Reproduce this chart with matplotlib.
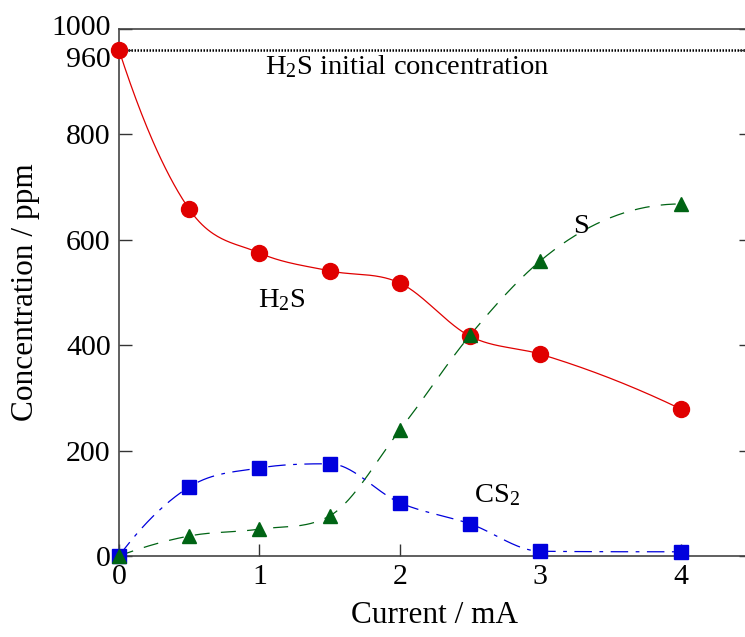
import numpy as np
import matplotlib
matplotlib.use('Agg')
import matplotlib.pyplot as plt
from matplotlib.transforms import offset_copy

plt.rcParams['font.family'] = ['Liberation Serif', 'DejaVu Serif']
plt.rcParams['mathtext.fontset'] = 'custom'
plt.rcParams['mathtext.rm'] = 'Liberation Serif'
plt.rcParams['mathtext.it'] = 'Liberation Serif:italic'

# values
current = [0, 0.5, 1, 1.5, 2, 2.5, 3, 4]
h2s = [960, 658, 575, 541, 518, 417, 383, 279]
sulfur = [0, 38, 51, 76, 239, 419, 560, 668]
cs2 = [0, 131, 167, 175, 101, 61, 9, 8]
initial = 960
yticks = [0, 200, 400, 600, 800, 960, 1000]
xticks = [0, 1, 2, 3, 4]


def smooth(x, y, n=400):
    # cubic hermite curve through the points, catmull-rom tangents
    # limited so the curve does not overshoot
    x = np.asarray(x, float)
    y = np.asarray(y, float)
    h = np.diff(x)
    d = np.diff(y) / h
    k = len(x)
    m = np.zeros(k)
    for i in range(1, k - 1):
        if d[i - 1] * d[i] > 0:
            s = (h[i] * d[i - 1] + h[i - 1] * d[i]) / (h[i - 1] + h[i])
            lim = 3 * min(abs(d[i - 1]), abs(d[i]))
            m[i] = np.sign(s) * min(abs(s), lim)
    def end(h0, h1, d0, d1):
        s = ((2 * h0 + h1) * d0 - h0 * d1) / (h0 + h1)
        if np.sign(s) != np.sign(d0):
            s = 0
        elif np.sign(d0) != np.sign(d1) and abs(s) > abs(3 * d0):
            s = 3 * d0
        return s
    m[0] = end(h[0], h[1], d[0], d[1])
    m[-1] = end(h[-1], h[-2], d[-1], d[-2])
    xs = np.linspace(x[0], x[-1], n)
    idx = np.clip(np.searchsorted(x, xs) - 1, 0, k - 2)
    hh = h[idx]
    t = (xs - x[idx]) / hh
    h00 = 2 * t ** 3 - 3 * t ** 2 + 1
    h10 = t ** 3 - 2 * t ** 2 + t
    h01 = -2 * t ** 3 + 3 * t ** 2
    h11 = t ** 3 - t ** 2
    ys = h00 * y[idx] + h10 * hh * m[idx] + h01 * y[idx + 1] + h11 * hh * m[idx + 1]
    return xs, ys


fig = plt.figure(figsize=(7.45, 6.37), dpi=100)
ax = fig.add_axes([119 / 745, 81 / 637, 632 / 745, 527 / 637])

red = '#e00000'
green = '#006414'
blue = '#0000dd'

ax.axhline(initial, color='black', lw=1.8, ls=(0, (0.6, 0.6)), zorder=1)

xs, ys = smooth(current, h2s)
ax.plot(xs, ys, color=red, lw=0.9, zorder=2)
xs, ys = smooth(current, sulfur)
ax.plot(xs, ys, color=green, lw=0.9, ls=(0, (12, 9)), zorder=2)
xs, ys = smooth(current, cs2)
ax.plot(xs, ys, color=blue, lw=0.9, ls=(0, (14, 6, 3, 6)), zorder=2)

ax.plot(current, h2s, 'o', color=red, ms=11.5, mec=red, zorder=3, clip_on=False)
ax.plot(current, cs2, 's', color=blue, ms=10.5, mec=blue, zorder=3, clip_on=False)
ax.plot(current, sulfur, '^', color=green, ms=10.5, mec=green, zorder=4, clip_on=False)

ax.set_xlim(0, 4.5)
ax.set_ylim(0, 1000)
ax.set_xticks(xticks)
ax.set_yticks(yticks)
ax.tick_params(direction='in', length=9, width=1, labelsize=21.5, right=True,
               top=False, pad=6, color='#333333')
for s in ax.spines.values():
    s.set_linewidth(1.2)
    s.set_color('#444444')

# nudge 1000 up and 960 down so they do not collide
labels = ax.get_yticklabels()
labels[-1].set_transform(offset_copy(labels[-1].get_transform(), fig=fig, y=4, units='dots'))
labels[-2].set_transform(offset_copy(labels[-2].get_transform(), fig=fig, y=-7, units='dots'))

ax.set_xlabel('Current / mA', fontsize=22.5, labelpad=8)
ax.set_ylabel('Concentration / ppm', fontsize=22.5, labelpad=8)

ax.text(1.04, 928, r'H$_2$S initial concentration', fontsize=20.5, va='center')
ax.text(0.99, 486, r'H$_2$S', fontsize=20.5, va='center')
ax.text(3.29, 626, 'S', fontsize=20.5, va='center', ha='center')
ax.text(2.53, 115, r'CS$_2$', fontsize=20.5, va='center')

plt.savefig('out.png', dpi=100)
